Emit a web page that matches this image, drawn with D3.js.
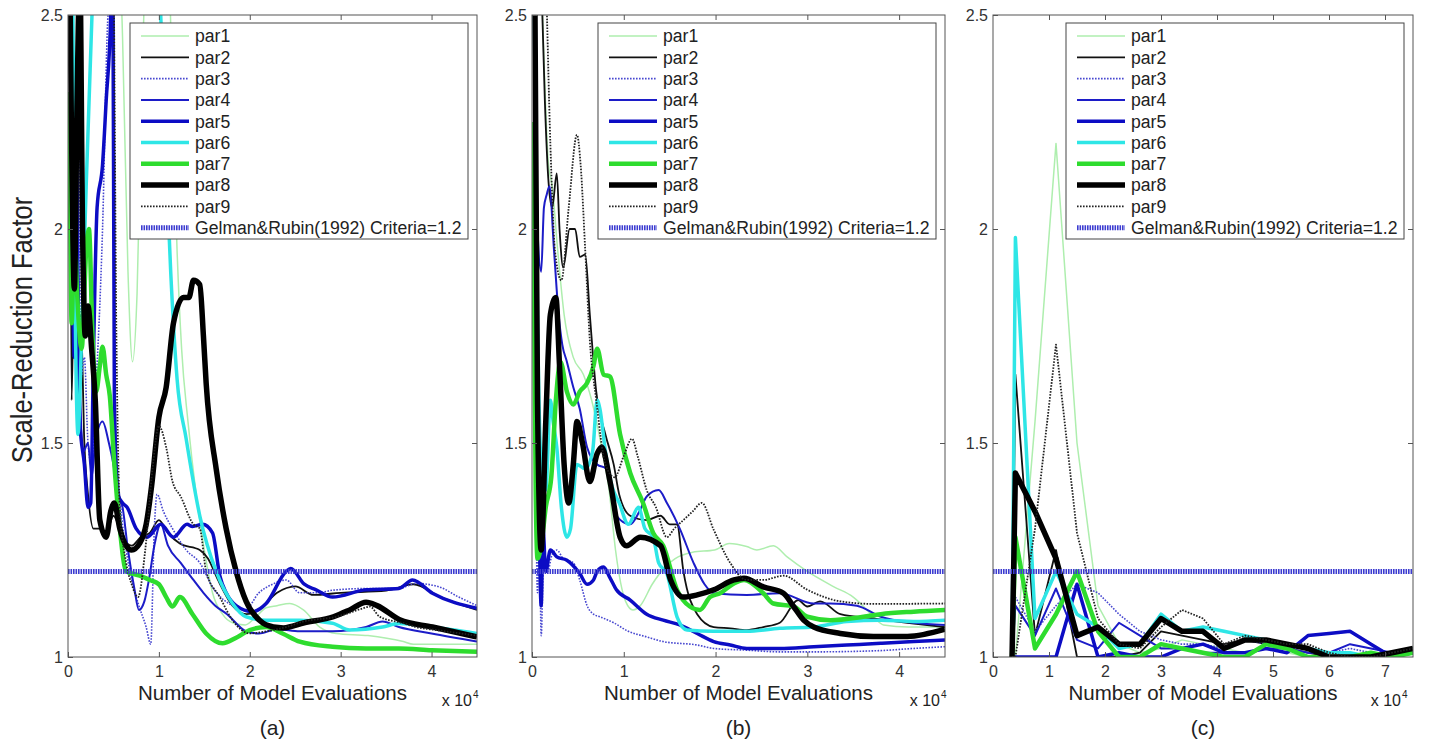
<!DOCTYPE html>
<html>
<head>
<meta charset="utf-8">
<script src="https://cdn.jsdelivr.net/npm/d3@7"></script>
<style>
body { margin: 0; background: #fff; }
svg { display: block; font-family: "Liberation Sans", Arial, sans-serif; }
</style>
</head>
<body>
<svg id="chart" width="1429" height="751"></svg>
<script>
// x values are in units of 10^4 model evaluations (as on the axes)
var a_par1 = [[0,3.5],[0.3,3.2],[0.5,2.9],[0.6,2.45],[0.66,1.9],[0.71,1.69],[0.76,1.85],[0.82,2.4],[0.9,2.8],[1.0,2.9],[1.1,2.7],[1.15,2.3],[1.2,1.95],[1.25,1.72],[1.32,1.55],[1.41,1.38],[1.5,1.25],[1.59,1.15],[1.7,1.1],[1.81,1.08],[1.95,1.075],[2.05,1.09],[2.18,1.115],[2.3,1.12],[2.44,1.125],[2.59,1.11],[2.77,1.07],[2.95,1.055],[3.3,1.05],[3.69,1.036],[3.8,1.03],[4.1,1.03],[4.5,1.03]];
var a_par2 = [[0,3.2],[0.02,2.6],[0.04,1.6],[0.07,1.95],[0.1,1.7],[0.14,1.8],[0.18,1.5],[0.22,1.38],[0.28,1.3],[0.35,1.3],[0.42,1.29],[0.5,1.33],[0.6,1.28],[0.7,1.26],[0.8,1.28],[0.9,1.29],[1.0,1.32],[1.1,1.29],[1.23,1.265],[1.45,1.25],[1.54,1.23],[1.65,1.18],[1.81,1.12],[1.96,1.1],[2.1,1.11],[2.3,1.15],[2.5,1.165],[2.7,1.145],[3.0,1.15],[3.5,1.155],[3.8,1.17],[4.1,1.14],[4.5,1.11]];
var a_par3 = [[0,3],[0.1,3],[0.12,2.5],[0.14,1.65],[0.18,1.7],[0.22,1.5],[0.26,1.45],[0.3,1.6],[0.38,2.0],[0.44,2.5],[0.5,2.6],[0.52,1.55],[0.58,1.35],[0.64,1.25],[0.7,1.18],[0.78,1.12],[0.86,1.07],[0.91,1.03],[0.95,1.3],[0.98,1.38],[1.05,1.34],[1.15,1.3],[1.3,1.25],[1.45,1.22],[1.6,1.16],[1.81,1.12],[1.95,1.11],[2.1,1.15],[2.25,1.17],[2.4,1.18],[2.55,1.15],[2.75,1.15],[2.91,1.156],[3.28,1.16],[3.64,1.16],[3.83,1.172],[4.08,1.164],[4.3,1.14],[4.5,1.12]];
var a_par4 = [[0,3.2],[0.03,2.4],[0.06,1.7],[0.1,2.2],[0.13,1.65],[0.17,1.48],[0.22,1.5],[0.26,1.42],[0.3,1.5],[0.38,1.55],[0.45,1.5],[0.5,1.45],[0.55,1.38],[0.6,1.35],[0.66,1.25],[0.73,1.16],[0.78,1.11],[0.84,1.13],[0.89,1.18],[0.95,1.26],[1.02,1.31],[1.1,1.26],[1.24,1.22],[1.38,1.18],[1.49,1.15],[1.62,1.12],[1.75,1.1],[1.96,1.06],[2.1,1.055],[2.3,1.065],[2.55,1.06],[2.91,1.06],[3.28,1.07],[3.46,1.083],[3.64,1.07],[4.0,1.055],[4.5,1.036]];
var a_par5 = [[0,3.2],[0.04,2.1],[0.07,1.7],[0.1,1.9],[0.13,1.55],[0.18,1.45],[0.22,1.35],[0.25,1.36],[0.28,1.7],[0.32,2.05],[0.38,2.15],[0.42,2.3],[0.47,2.5],[0.49,2.8],[0.51,1.6],[0.55,1.38],[0.6,1.36],[0.65,1.35],[0.75,1.3],[0.87,1.28],[1.02,1.31],[1.16,1.28],[1.31,1.31],[1.37,1.305],[1.48,1.31],[1.59,1.29],[1.67,1.19],[1.74,1.15],[1.85,1.12],[2.03,1.106],[2.18,1.125],[2.4,1.2],[2.45,1.207],[2.6,1.17],[2.73,1.157],[2.91,1.14],[3.28,1.157],[3.64,1.16],[3.79,1.18],[4.01,1.149],[4.5,1.114]];
var a_par6 = [[0,3],[0.05,2.6],[0.08,1.8],[0.11,1.52],[0.15,1.75],[0.2,2.1],[0.28,2.6],[0.4,3.2],[0.7,3.5],[0.95,2.8],[1.02,2.5],[1.08,2.15],[1.13,1.9],[1.2,1.65],[1.3,1.51],[1.45,1.33],[1.63,1.2],[1.81,1.125],[1.96,1.094],[2.18,1.086],[2.55,1.086],[2.91,1.079],[3.1,1.063],[3.46,1.07],[3.64,1.078],[4.0,1.07],[4.5,1.055]];
var a_par7 = [[0,2.32],[0.02,2.1],[0.04,1.78],[0.07,2.0],[0.1,1.85],[0.15,1.72],[0.2,1.95],[0.23,2.0],[0.27,1.75],[0.31,1.62],[0.35,1.68],[0.38,1.725],[0.42,1.66],[0.46,1.61],[0.51,1.45],[0.57,1.3],[0.64,1.2],[0.79,1.19],[0.9,1.18],[1.0,1.17],[1.08,1.14],[1.15,1.118],[1.23,1.14],[1.37,1.1],[1.52,1.055],[1.7,1.032],[1.85,1.045],[2.0,1.063],[2.18,1.07],[2.36,1.055],[2.55,1.036],[2.91,1.024],[3.28,1.02],[3.64,1.02],[4.0,1.016],[4.5,1.012]];
var a_par8 = [[0,3.5],[0.02,2.6],[0.04,2.2],[0.07,1.86],[0.1,2.3],[0.13,2.6],[0.16,2.0],[0.19,1.75],[0.22,1.82],[0.26,1.72],[0.3,1.6],[0.35,1.32],[0.42,1.28],[0.47,1.34],[0.51,1.36],[0.57,1.3],[0.64,1.26],[0.7,1.25],[0.79,1.266],[0.86,1.31],[0.92,1.4],[1.0,1.56],[1.08,1.63],[1.16,1.78],[1.27,1.84],[1.33,1.84],[1.38,1.88],[1.45,1.87],[1.49,1.75],[1.52,1.64],[1.63,1.44],[1.74,1.3],[1.85,1.2],[1.96,1.13],[2.11,1.085],[2.26,1.07],[2.37,1.068],[2.6,1.08],[2.92,1.094],[3.1,1.11],[3.28,1.128],[3.4,1.12],[3.65,1.087],[4.01,1.07],[4.5,1.047]];
var a_par9 = [[0,3.5],[0.3,3.2],[0.5,2.6],[0.53,1.8],[0.57,1.35],[0.64,1.22],[0.7,1.17],[0.77,1.14],[0.85,1.25],[0.93,1.44],[1.0,1.54],[1.08,1.49],[1.15,1.41],[1.24,1.375],[1.38,1.31],[1.45,1.3],[1.52,1.2],[1.67,1.14],[1.81,1.086],[2.0,1.055],[2.18,1.06],[2.4,1.07],[2.59,1.083],[2.95,1.094],[3.25,1.114],[3.32,1.118],[3.43,1.094],[3.69,1.079],[3.83,1.07],[4.05,1.063],[4.5,1.05]];

var b_par1 = [[0,3.5],[0.05,3],[0.1,2.6],[0.18,2.15],[0.22,2.1],[0.28,1.95],[0.35,1.8],[0.45,1.7],[0.56,1.66],[0.65,1.6],[0.75,1.5],[0.84,1.39],[0.91,1.25],[1.02,1.13],[1.1,1.11],[1.18,1.12],[1.31,1.17],[1.45,1.21],[1.56,1.23],[1.75,1.245],[1.99,1.25],[2.15,1.265],[2.34,1.258],[2.45,1.25],[2.63,1.26],[2.78,1.234],[3.0,1.2],[3.29,1.164],[3.5,1.14],[3.65,1.11],[3.72,1.094],[3.83,1.075],[4.1,1.07],[4.5,1.07]];
var b_par2 = [[0,3.5],[0.05,3],[0.1,2.6],[0.14,2.3],[0.18,2.11],[0.22,2.05],[0.27,2.13],[0.3,2.0],[0.34,1.91],[0.41,2.0],[0.47,2.0],[0.52,1.935],[0.58,1.94],[0.63,1.8],[0.7,1.62],[0.8,1.52],[0.89,1.45],[0.95,1.38],[1.07,1.33],[1.25,1.32],[1.4,1.33],[1.5,1.31],[1.58,1.31],[1.65,1.2],[1.8,1.1],[1.98,1.07],[2.16,1.067],[2.34,1.063],[2.52,1.07],[2.7,1.08],[2.9,1.133],[3.0,1.118],[3.14,1.13],[3.36,1.1],[3.72,1.09],[4.09,1.08],[4.5,1.07]];
var b_par3 = [[0,3.5],[0.02,2.5],[0.04,1.5],[0.06,1.15],[0.08,1.3],[0.1,1.05],[0.13,1.25],[0.17,1.2],[0.22,1.24],[0.27,1.25],[0.34,1.23],[0.45,1.22],[0.52,1.18],[0.6,1.12],[0.67,1.1],[0.74,1.094],[0.89,1.08],[1.05,1.06],[1.25,1.047],[1.43,1.036],[1.8,1.028],[1.98,1.02],[2.34,1.016],[2.7,1.012],[3.07,1.012],[3.8,1.015],[4.16,1.02],[4.5,1.024]];
var b_par4 = [[0,3.5],[0.03,2.6],[0.06,2.0],[0.1,1.9],[0.13,2.05],[0.16,2.08],[0.19,2.1],[0.24,1.95],[0.29,1.8],[0.33,1.73],[0.38,1.69],[0.45,1.63],[0.52,1.58],[0.6,1.49],[0.71,1.45],[0.81,1.44],[0.92,1.33],[1.07,1.31],[1.17,1.34],[1.25,1.375],[1.38,1.39],[1.47,1.36],[1.61,1.3],[1.76,1.22],[1.88,1.17],[1.98,1.149],[2.34,1.145],[2.7,1.149],[3.07,1.125],[3.25,1.125],[3.54,1.12],[3.8,1.094],[4.16,1.08],[4.5,1.075]];
var b_par5 = [[0,3.5],[0.03,2.4],[0.06,1.7],[0.08,1.3],[0.1,1.12],[0.12,1.3],[0.15,1.2],[0.2,1.25],[0.27,1.234],[0.38,1.226],[0.52,1.195],[0.6,1.17],[0.67,1.18],[0.71,1.2],[0.78,1.21],[0.85,1.185],[0.92,1.157],[1.07,1.133],[1.25,1.1],[1.43,1.086],[1.61,1.075],[1.8,1.055],[1.98,1.036],[2.16,1.028],[2.34,1.02],[2.7,1.02],[3.07,1.024],[3.43,1.028],[3.8,1.032],[4.16,1.036],[4.5,1.04]];
var b_par6 = [[0,3],[0.03,2.4],[0.06,1.8],[0.1,1.45],[0.15,1.39],[0.2,1.6],[0.23,1.55],[0.27,1.49],[0.32,1.35],[0.38,1.28],[0.42,1.3],[0.49,1.45],[0.58,1.44],[0.66,1.48],[0.71,1.6],[0.74,1.58],[0.8,1.48],[0.87,1.4],[0.95,1.36],[1.05,1.31],[1.16,1.35],[1.23,1.3],[1.32,1.28],[1.38,1.22],[1.47,1.195],[1.58,1.094],[1.69,1.063],[1.98,1.06],[2.34,1.06],[2.7,1.067],[3.07,1.07],[3.43,1.083],[3.8,1.086],[4.16,1.083],[4.5,1.086]];
var b_par7 = [[0,2.25],[0.02,1.9],[0.04,1.4],[0.06,1.23],[0.1,1.26],[0.15,1.35],[0.21,1.42],[0.26,1.6],[0.31,1.69],[0.38,1.62],[0.45,1.59],[0.52,1.62],[0.6,1.64],[0.67,1.68],[0.71,1.72],[0.78,1.66],[0.85,1.655],[0.96,1.52],[1.07,1.43],[1.21,1.36],[1.32,1.29],[1.43,1.26],[1.58,1.157],[1.72,1.118],[1.83,1.11],[1.94,1.14],[2.05,1.149],[2.2,1.172],[2.31,1.18],[2.52,1.149],[2.63,1.125],[2.85,1.118],[3.0,1.094],[3.25,1.086],[3.61,1.094],[3.8,1.1],[4.16,1.106],[4.5,1.11]];
var b_par8 = [[0,3.5],[0.03,2.6],[0.06,1.6],[0.1,1.25],[0.15,1.55],[0.2,1.8],[0.26,1.84],[0.3,1.68],[0.35,1.45],[0.4,1.36],[0.45,1.45],[0.49,1.55],[0.55,1.5],[0.63,1.41],[0.71,1.475],[0.76,1.49],[0.85,1.41],[0.96,1.28],[1.03,1.26],[1.18,1.28],[1.4,1.26],[1.51,1.18],[1.65,1.14],[1.8,1.145],[1.98,1.157],[2.2,1.18],[2.31,1.184],[2.52,1.164],[2.74,1.149],[2.85,1.118],[2.96,1.086],[3.07,1.07],[3.36,1.055],[3.72,1.048],[4.09,1.048],[4.5,1.065]];
var b_par9 = [[0,3.5],[0.1,2.9],[0.15,2.6],[0.2,2.2],[0.25,1.95],[0.32,1.88],[0.4,2.05],[0.49,2.22],[0.53,2.15],[0.58,1.95],[0.63,1.74],[0.7,1.6],[0.8,1.45],[0.9,1.42],[1.0,1.47],[1.09,1.51],[1.15,1.47],[1.25,1.39],[1.35,1.35],[1.47,1.28],[1.55,1.3],[1.65,1.32],[1.75,1.34],[1.85,1.36],[1.98,1.297],[2.16,1.22],[2.34,1.18],[2.52,1.18],[2.74,1.19],[3.0,1.157],[3.36,1.13],[3.72,1.124],[4.5,1.125]];

// panel (c) is sampled on a common grid
var c_x    = [0.34, 0.4, 0.75, 1.125, 1.5, 1.875, 2.25, 2.625, 3.0, 3.375, 3.75, 4.125, 4.5, 4.875, 5.25, 5.625, 6.0, 6.375, 6.75, 7.125, 7.5];
var c_par1 = [1.0, 1.0, 1.55, 2.2, 1.5, 1.12, 1.03, 1.01, 1.02, 1.04, 1.03, 1.02, 1.01, 1.02, 1.01, 1.0, 1.01, 1.0, 1.0, 1.01, 1.02];
var c_par2 = [1.0, 1.66, 1.05, 1.25, 1.0, 1.0, 1.0, 1.01, 1.06, 1.05, 1.04, 1.03, 1.04, 1.03, 1.02, 1.01, 1.0, 1.0, 1.0, 1.01, 1.02];
var c_par3 = [1.0, 1.14, 1.06, 1.12, 1.17, 1.15, 1.1, 1.06, 1.04, 1.03, 1.03, 1.02, 1.04, 1.03, 1.02, 1.01, 1.01, 1.02, 1.01, 1.01, 1.01];
var c_par4 = [1.0, 1.12, 1.05, 1.16, 1.04, 1.02, 1.08, 1.05, 1.02, 1.02, 1.01, 1.01, 1.01, 1.02, 1.02, 1.01, 1.01, 1.03, 1.02, 1.01, 1.01];
var c_par5 = [1.0, 1.0, 1.0, 1.0, 1.17, 1.0, 1.01, 1.0, 1.0, 1.02, 1.03, 1.01, 1.01, 1.02, 1.01, 1.05, 1.055, 1.06, 1.03, 1.0, 1.01];
var c_par6 = [1.0, 1.98, 1.09, 1.2, 1.1, 1.07, 1.02, 1.03, 1.1, 1.06, 1.07, 1.06, 1.05, 1.04, 1.03, 1.02, 1.01, 1.01, 1.0, 1.01, 1.02];
var c_par7 = [1.0, 1.28, 1.02, 1.1, 1.2, 1.06, 1.0, 1.0, 1.03, 1.02, 1.01, 1.0, 1.0, 1.03, 1.02, 1.0, 1.0, 1.0, 1.01, 1.0, 1.01];
var c_par8 = [1.0, 1.43, 1.34, 1.23, 1.05, 1.07, 1.03, 1.03, 1.09, 1.06, 1.06, 1.02, 1.04, 1.04, 1.03, 1.02, 1.0, 1.0, 1.0, 1.01, 1.02];
var c_par9 = [1.0, 1.0, 1.3, 1.73, 1.29, 1.09, 1.03, 1.02, 1.07, 1.11, 1.09, 1.03, 1.05, 1.04, 1.03, 1.03, 1.01, 1.0, 1.0, 1.01, 1.02];

var names = ["par1", "par2", "par3", "par4", "par5", "par6", "par7", "par8", "par9"];
var criteria = 1.2;
var criteria_label = "Gelman&Rubin(1992) Criteria=1.2";
var y_ticks = [1, 1.5, 2, 2.5];
var ab_ticks = [0, 1, 2, 3, 4];
var c_ticks = [0, 1, 2, 3, 4, 5, 6, 7];

// line styles, MATLAB-ish
var colors = ["#aeeeae", "#111111", "#4848d0", "#1c1cc8", "#0c0cc4", "#2ee6e6", "#2edc2e", "#000000", "#222222"];
var widths = [1.5, 1.8, 1.6, 2, 3.5, 3.5, 4.5, 5.5, 1.8];
var dashes = [null, null, "1.6,1.4", null, null, null, null, null, "1.6,1.4"];

var svg = d3.select("#chart");
var plot_top = 15, plot_bottom = 657;

var y = d3.scaleLinear().domain([1, 2.5]).range([plot_bottom, plot_top]);

function zipC(vals) { return c_x.map(function (x, i) { return [x, vals[i]]; }); }

var panels = [
    { label: "(a)", left: 68, right: 477, xmax: 4.5, ticks: ab_ticks, expOff: 5,
      series: [a_par1, a_par2, a_par3, a_par4, a_par5, a_par6, a_par7, a_par8, a_par9], curve: d3.curveMonotoneX },
    { label: "(b)", left: 532, right: 945, xmax: 4.5, ticks: ab_ticks, expOff: 5,
      series: [b_par1, b_par2, b_par3, b_par4, b_par5, b_par6, b_par7, b_par8, b_par9], curve: d3.curveMonotoneX },
    { label: "(c)", left: 993, right: 1413, xmax: 7.5, ticks: c_ticks, expOff: 12,
      series: [c_par1, c_par2, c_par3, c_par4, c_par5, c_par6, c_par7, c_par8, c_par9].map(zipC), curve: d3.curveLinear }
];

var defs = svg.append("defs");

panels.forEach(function (p, pi) {
    var x = d3.scaleLinear().domain([0, p.xmax]).range([p.left, p.right]);
    var g = svg.append("g");

    defs.append("clipPath").attr("id", "clip" + pi)
        .append("rect")
        .attr("x", p.left).attr("y", plot_top)
        .attr("width", p.right - p.left).attr("height", plot_bottom - plot_top);

    var line = d3.line()
        .x(function (d) { return x(d[0]); })
        .y(function (d) { return y(d[1]); })
        .curve(p.curve);

    var plot = g.append("g").attr("clip-path", "url(#clip" + pi + ")");
    p.series.forEach(function (s, i) {
        plot.append("path")
            .datum(s)
            .attr("d", line)
            .attr("fill", "none")
            .attr("stroke", colors[i])
            .attr("stroke-width", widths[i])
            .attr("stroke-dasharray", dashes[i])
            .attr("stroke-linejoin", "round");
    });

    // criteria line
    plot.append("path")
        .datum([[0, criteria], [p.xmax, criteria]])
        .attr("d", line)
        .attr("fill", "none")
        .attr("stroke", "#3c3cd0")
        .attr("stroke-width", 5)
        .attr("stroke-dasharray", "1.6,0.9");

    // axes (ticks pointing inward, box drawn separately)
    var ax_b = g.append("g").attr("transform", "translate(0," + plot_bottom + ")")
        .call(d3.axisBottom(x).tickValues(p.ticks).tickFormat(d3.format("d")).tickSizeInner(-5).tickSizeOuter(0).tickPadding(9));
    var ax_t = g.append("g").attr("transform", "translate(0," + plot_top + ")")
        .call(d3.axisTop(x).tickValues(p.ticks.slice(1)).tickFormat("").tickSizeInner(-5).tickSizeOuter(0));
    var ax_l = g.append("g").attr("transform", "translate(" + p.left + ",0)")
        .call(d3.axisLeft(y).tickValues(y_ticks).tickFormat(d3.format("")).tickSizeInner(-5).tickSizeOuter(0).tickPadding(5));
    var ax_r = g.append("g").attr("transform", "translate(" + p.right + ",0)")
        .call(d3.axisRight(y).tickValues([1.5, 2]).tickFormat("").tickSizeInner(-5).tickSizeOuter(0));

    [ax_b, ax_t, ax_l, ax_r].forEach(function (a) {
        a.select(".domain").remove();
        a.selectAll("line").attr("stroke", "#555");
        a.selectAll("text").attr("fill", "#333").style("font-size", "16px")
            .style("font-family", "'Liberation Sans', Arial, sans-serif");
    });

    g.append("rect")
        .attr("x", p.left).attr("y", plot_top)
        .attr("width", p.right - p.left).attr("height", plot_bottom - plot_top)
        .attr("fill", "none")
        .attr("stroke", "#555")
        .attr("stroke-width", 1);

    // legend
    var lw = 338, lh = 216;
    var lx = p.right - 9 - lw, ly = plot_top + 8;
    var leg = g.append("g");
    leg.append("rect")
        .attr("x", lx).attr("y", ly)
        .attr("width", lw).attr("height", lh)
        .attr("fill", "#fff")
        .attr("stroke", "#444")
        .attr("stroke-width", 1);

    var items = names.map(function (n, i) {
        return { name: n, color: colors[i], width: widths[i], dash: dashes[i] };
    });
    items.push({ name: criteria_label, color: "#3c3cd0", width: 5, dash: "1.6,0.9" });

    var row = leg.selectAll("g.item")
        .data(items)
        .enter().append("g")
        .attr("class", "item")
        .attr("transform", function (d, i) { return "translate(" + lx + "," + (ly + 13 + i * 21.3) + ")"; });
    row.append("line")
        .attr("x1", 11).attr("x2", 59)
        .attr("y1", 0).attr("y2", 0)
        .attr("stroke", function (d) { return d.color; })
        .attr("stroke-width", function (d) { return d.width; })
        .attr("stroke-dasharray", function (d) { return d.dash; });
    row.append("text")
        .attr("x", 65)
        .attr("dy", "0.36em")
        .attr("font-size", "17.6px")
        .attr("fill", "#222")
        .text(function (d) { return d.name; });

    // x label, exponent, panel label
    var cx = (p.left + p.right) / 2;
    g.append("text")
        .attr("x", cx).attr("y", 700)
        .attr("text-anchor", "middle")
        .attr("font-size", "20.5px")
        .attr("fill", "#222")
        .text("Number of Model Evaluations");

    g.append("text")
        .attr("x", p.right - p.expOff).attr("y", 706)
        .attr("text-anchor", "end")
        .attr("font-size", "16px")
        .attr("fill", "#222")
        .text("x 10");
    g.append("text")
        .attr("x", p.right - p.expOff + 1).attr("y", 698)
        .attr("font-size", "10px")
        .attr("fill", "#222")
        .text("4");

    g.append("text")
        .attr("x", cx).attr("y", 735)
        .attr("text-anchor", "middle")
        .attr("font-size", "21px")
        .attr("fill", "#222")
        .text(p.label);
});

// y axis title (shared, left of panel a)
svg.append("text")
    .attr("transform", "translate(32,330) rotate(-90) scale(0.88,1)")
    .attr("text-anchor", "middle")
    .attr("font-size", "29px")
    .attr("fill", "#222")
    .text("Scale-Reduction Factor");
</script>
</body>
</html>
